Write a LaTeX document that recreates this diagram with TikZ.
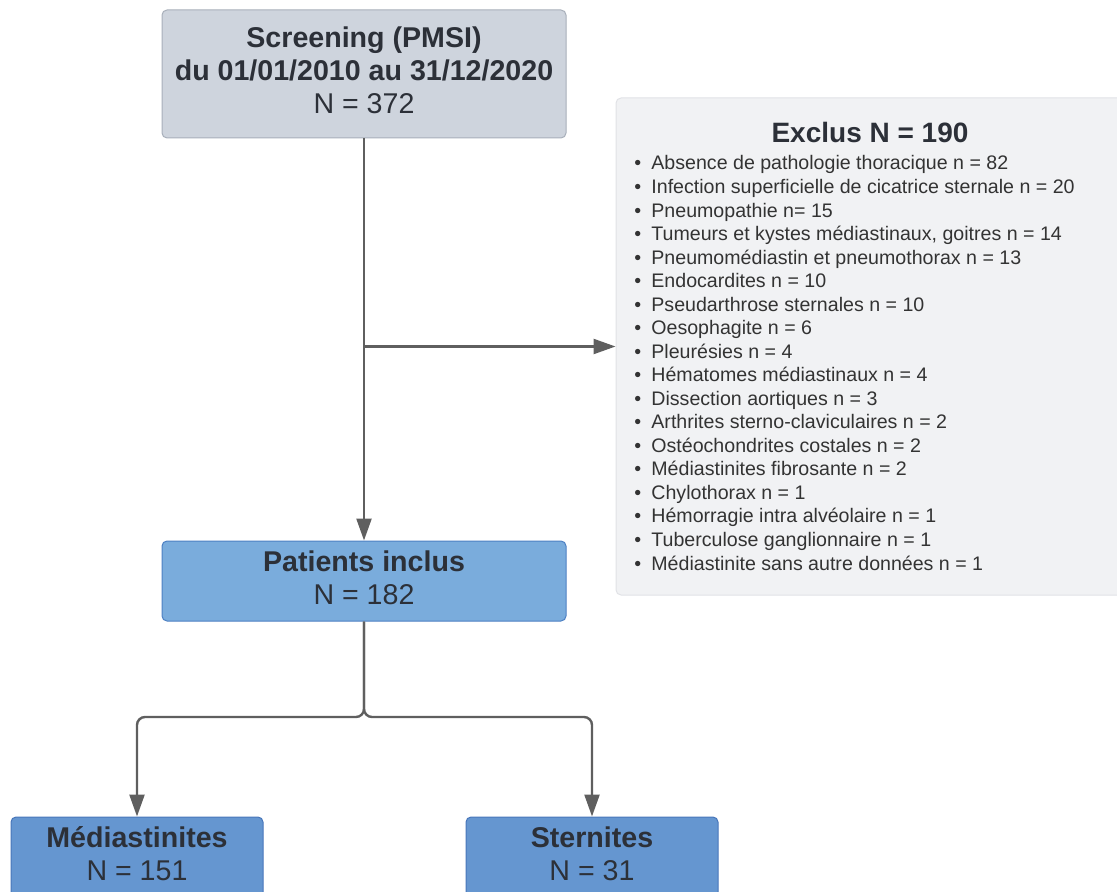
\documentclass[tikz,border=0pt]{standalone}
\usepackage{fontspec}
\setmainfont{Liberation Sans}
\usetikzlibrary{arrows.meta}
\definecolor{txtdark}{HTML}{2C3038}
\definecolor{txtlist}{HTML}{333333}
\definecolor{arrgray}{HTML}{5F5F5F}
\definecolor{scrfill}{HTML}{CED4DD}
\definecolor{scrline}{HTML}{A8AFBA}
\definecolor{exfill}{HTML}{F1F2F4}
\definecolor{exline}{HTML}{E1E2E6}
\definecolor{patfill}{HTML}{7AACDC}
\definecolor{patline}{HTML}{4D80C3}
\definecolor{grpfill}{HTML}{6596D0}
\definecolor{grpline}{HTML}{4876BA}

\begin{document}
\begin{tikzpicture}[x=0.5pt,y=-0.5pt,
  % arrow heads for all connectors
  arr/.style={draw=arrgray,line width=1.2pt,rounded corners=4pt,
    -{Triangle[length=11pt,width=7.5pt]}},
  % extra depth on the last line lifts the text a little
  box/.style={rounded corners=2.5pt,line width=0.5pt,align=center,
    text=txtdark,inner sep=0pt,font=\fontsize{14.3}{16.5}\selectfont,
    execute at end node={\rule[-3.5pt]{0pt}{0pt}}},
  item/.style={anchor=base west,inner sep=0pt,text=txtlist,
    font=\fontsize{9.8}{11.8}\selectfont}]

\useasboundingbox (0,0) rectangle (1117,892);

\node[box,fill=scrfill,draw=scrline,minimum width=202pt,minimum height=64pt]
  (scr) at (364,74) {\textbf{Screening (PMSI)}\\\textbf{du 01/01/2010 au 31/12/2020}\\N = 372};
\node[box,fill=exfill,draw=exline,minimum width=258pt,minimum height=248.5pt]
  (excl) at (874,346.5) {};
\node[anchor=base,inner sep=0pt,text=txtdark,font=\fontsize{14}{16}\selectfont\bfseries]
  (exclT) at (870,143) {Exclus N = 190};
\foreach \txt [count=\i] in {
  Absence de pathologie thoracique n = 82,
  Infection superficielle de cicatrice sternale n = 20,
  Pneumopathie n= 15,
  {Tumeurs et kystes médiastinaux, goitres n = 14},
  Pneumomédiastin et pneumothorax n = 13,
  Endocardites n = 10,
  Pseudarthrose sternales n = 10,
  Oesophagite n = 6,
  Pleurésies n = 4,
  Hématomes médiastinaux n = 4,
  Dissection aortiques n = 3,
  Arthrites sterno-claviculaires n = 2,
  Ostéochondrites costales n = 2,
  Médiastinites fibrosante n = 2,
  Chylothorax n = 1,
  Hémorragie intra alvéolaire n = 1,
  Tuberculose ganglionnaire n = 1,
  Médiastinite sans autre données n = 1} {
  \node[item] (it\i) at (634,{170+23.53*(\i-1)}) {\makebox[8.5pt][l]{•}\txt};
}
\node[box,fill=patfill,draw=patline,minimum width=202pt,minimum height=40pt]
  (pat) at (364,581) {\textbf{Patients inclus}\\N = 182};
\node[box,fill=grpfill,draw=grpline,minimum width=126pt,minimum height=40pt]
  (med) at (137,857) {\textbf{Médiastinites}\\N = 151};
\node[box,fill=grpfill,draw=grpline,minimum width=126pt,minimum height=40pt]
  (ster) at (592,857) {\textbf{Sternites}\\N = 31};

\coordinate (split) at (scr.south |- excl.west);
\coordinate (fork) at (364,717);
\draw[arr] (scr.south) -- (pat.north);
\draw[arr] (split) -- (excl.west);
\draw[arr] (pat.south) -- (fork) -| (med.north);
\draw[arr] (pat.south) -- (fork) -| (ster.north);
\end{tikzpicture}
\end{document}
